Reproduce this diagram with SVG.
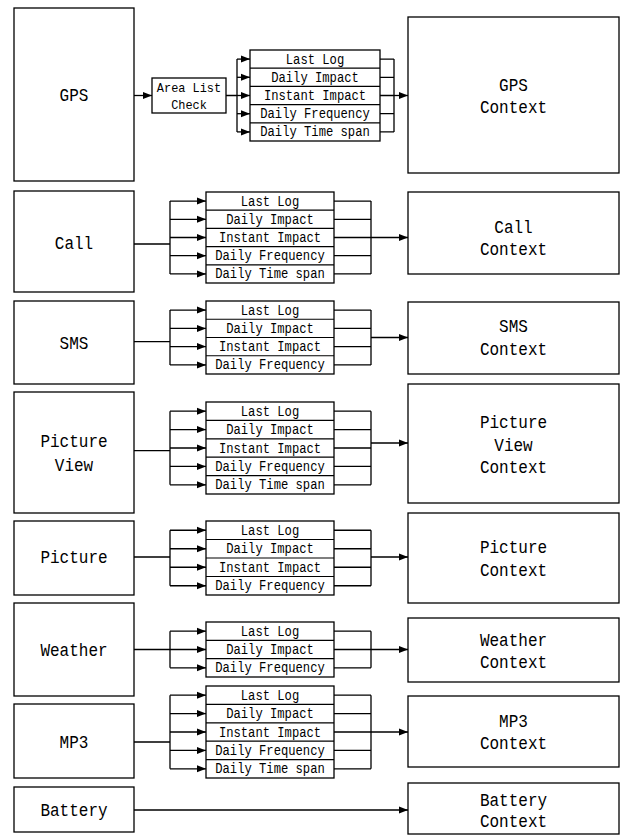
<svg xmlns="http://www.w3.org/2000/svg" width="623" height="836" viewBox="0 0 623 836">
<style>
.box{fill:#fff;stroke:#000;stroke-width:1.3}
.sep{fill:none;stroke:#000;stroke-width:1.2}
.ln{fill:none;stroke:#000;stroke-width:1.3}
.arr{fill:none;stroke:#000;stroke-width:1.3;marker-end:url(#ah)}
.t{font-family:"Liberation Mono","DejaVu Sans Mono",monospace;text-anchor:middle;dominant-baseline:central;fill:#000}
.big{font-size:19px}
.sm{font-size:14px}
.ar{font-size:13px}
</style>
<defs>
<marker id="ah" markerWidth="9" markerHeight="8" refX="9" refY="4" orient="auto" markerUnits="userSpaceOnUse"><path d="M0,0.5 L9,4 L0,7.5z" fill="#000"/></marker>
</defs>
<rect width="623" height="836" fill="#fff"/>

<g id="connectors">
<!-- GPS -->
<path class="arr" d="M134,95.5 H152"/>
<path class="ln" d="M226,95.5 H237 M237,59.1 V131.9"/>
<path class="arr" d="M237,59.1 H250"/><path class="arr" d="M237,77.3 H250"/><path class="arr" d="M237,95.5 H250"/><path class="arr" d="M237,113.7 H250"/><path class="arr" d="M237,131.9 H250"/>
<path class="ln" d="M380,59.1 H394 M380,77.3 H394 M380,95.5 H394 M380,113.7 H394 M380,131.9 H394 M394,59.1 V131.9"/>
<path class="arr" d="M394,95.5 H408"/>
<!-- Call -->
<path class="ln" d="M134,244 H170 M170,201.1 V273.9"/>
<path class="arr" d="M170,201.1 H206"/><path class="arr" d="M170,219.3 H206"/><path class="arr" d="M170,237.5 H206"/><path class="arr" d="M170,255.7 H206"/><path class="arr" d="M170,273.9 H206"/>
<path class="ln" d="M334,201.1 H371 M334,219.3 H371 M334,237.5 H371 M334,255.7 H371 M334,273.9 H371 M371,201.1 V273.9"/>
<path class="arr" d="M371,237.5 H408"/>
<!-- SMS -->
<path class="ln" d="M134,341.7 H170 M170,310.1 V364.9"/>
<path class="arr" d="M170,310.1 H206"/><path class="arr" d="M170,328.4 H206"/><path class="arr" d="M170,346.6 H206"/><path class="arr" d="M170,364.9 H206"/>
<path class="ln" d="M334,310.1 H371 M334,328.4 H371 M334,346.6 H371 M334,364.9 H371 M371,310.1 V364.9"/>
<path class="arr" d="M371,337.5 H408"/>
<!-- Picture View -->
<path class="ln" d="M134,450.7 H170 M170,411.2 V484.8"/>
<path class="arr" d="M170,411.2 H206"/><path class="arr" d="M170,429.6 H206"/><path class="arr" d="M170,448 H206"/><path class="arr" d="M170,466.4 H206"/><path class="arr" d="M170,484.8 H206"/>
<path class="ln" d="M334,411.2 H371 M334,429.6 H371 M334,448 H371 M334,466.4 H371 M334,484.8 H371 M371,411.2 V484.8"/>
<path class="arr" d="M371,443 H408"/>
<!-- Picture -->
<path class="ln" d="M134,557 H170 M170,530.25 V585.75"/>
<path class="arr" d="M170,530.25 H206"/><path class="arr" d="M170,548.75 H206"/><path class="arr" d="M170,567.25 H206"/><path class="arr" d="M170,585.75 H206"/>
<path class="ln" d="M334,530.25 H371 M334,548.75 H371 M334,567.25 H371 M334,585.75 H371 M371,530.25 V585.75"/>
<path class="arr" d="M371,557 H408"/>
<!-- Weather -->
<path class="arr" d="M134,649.5 H206"/>
<path class="ln" d="M170,631.2 V667.8"/>
<path class="arr" d="M170,631.2 H206"/><path class="arr" d="M170,667.8 H206"/>
<path class="ln" d="M334,631.2 H371 M334,649.5 H371 M334,667.8 H371 M371,631.2 V667.8"/>
<path class="arr" d="M371,649.5 H408"/>
<!-- MP3 -->
<path class="ln" d="M134,742 H170 M170,695.2 V768.8"/>
<path class="arr" d="M170,695.2 H206"/><path class="arr" d="M170,713.6 H206"/><path class="arr" d="M170,732 H206"/><path class="arr" d="M170,750.4 H206"/><path class="arr" d="M170,768.8 H206"/>
<path class="ln" d="M334,695.2 H371 M334,713.6 H371 M334,732 H371 M334,750.4 H371 M334,768.8 H371 M371,695.2 V768.8"/>
<path class="arr" d="M371,732 H408"/>
<!-- Battery -->
<path class="arr" d="M134,810 H408"/>
</g>

<!-- Source nodes -->
<g id="gps"><rect class="box" x="14" y="8" width="120" height="173"/><text class="t big" x="74" y="96" textLength="28.8" lengthAdjust="spacingAndGlyphs">GPS</text></g>
<g id="call"><rect class="box" x="14" y="191" width="120" height="101"/><text class="t big" x="74" y="244" textLength="38.4" lengthAdjust="spacingAndGlyphs">Call</text></g>
<g id="sms"><rect class="box" x="14" y="301" width="120" height="83"/><text class="t big" x="74" y="344" textLength="28.8" lengthAdjust="spacingAndGlyphs">SMS</text></g>
<g id="picture-view"><rect class="box" x="14" y="392" width="120" height="121"/><text class="t big" x="74" y="442" textLength="67.2" lengthAdjust="spacingAndGlyphs">Picture</text><text class="t big" x="74" y="466" textLength="38.4" lengthAdjust="spacingAndGlyphs">View</text></g>
<g id="picture"><rect class="box" x="14" y="521" width="120" height="74"/><text class="t big" x="74" y="558" textLength="67.2" lengthAdjust="spacingAndGlyphs">Picture</text></g>
<g id="weather"><rect class="box" x="14" y="603" width="120" height="93"/><text class="t big" x="74" y="651" textLength="67.2" lengthAdjust="spacingAndGlyphs">Weather</text></g>
<g id="mp3"><rect class="box" x="14" y="704" width="120" height="74"/><text class="t big" x="74" y="743" textLength="28.8" lengthAdjust="spacingAndGlyphs">MP3</text></g>
<g id="battery"><rect class="box" x="14" y="787" width="120" height="45"/><text class="t big" x="74" y="811" textLength="67.2" lengthAdjust="spacingAndGlyphs">Battery</text></g>

<!-- Area List Check -->
<g id="area-list-check"><rect class="box" x="152" y="78" width="74" height="35"/><text class="t ar" x="189" y="88" textLength="64.3" lengthAdjust="spacingAndGlyphs">Area List</text><text class="t ar" x="189" y="105" textLength="35.7" lengthAdjust="spacingAndGlyphs">Check</text></g>

<!-- Metric stacks -->
<g id="gps-metrics">
<rect class="box" x="250" y="50" width="130" height="91"/>
<path class="sep" d="M250,68.2 H380 M250,86.4 H380 M250,104.6 H380 M250,122.8 H380"/>
<text class="t sm" x="315" y="59.6" textLength="58.4" lengthAdjust="spacingAndGlyphs">Last Log</text>
<text class="t sm" x="315" y="77.8" textLength="87.6" lengthAdjust="spacingAndGlyphs">Daily Impact</text>
<text class="t sm" x="315" y="96" textLength="102.2" lengthAdjust="spacingAndGlyphs">Instant Impact</text>
<text class="t sm" x="315" y="114.2" textLength="109.5" lengthAdjust="spacingAndGlyphs">Daily Frequency</text>
<text class="t sm" x="315" y="132.4" textLength="109.5" lengthAdjust="spacingAndGlyphs">Daily Time span</text>
</g>
<g id="call-metrics">
<rect class="box" x="206" y="192" width="128" height="91"/>
<path class="sep" d="M206,210.2 H334 M206,228.4 H334 M206,246.6 H334 M206,264.8 H334"/>
<text class="t sm" x="270" y="201.6" textLength="58.4" lengthAdjust="spacingAndGlyphs">Last Log</text>
<text class="t sm" x="270" y="219.8" textLength="87.6" lengthAdjust="spacingAndGlyphs">Daily Impact</text>
<text class="t sm" x="270" y="238" textLength="102.2" lengthAdjust="spacingAndGlyphs">Instant Impact</text>
<text class="t sm" x="270" y="256.2" textLength="109.5" lengthAdjust="spacingAndGlyphs">Daily Frequency</text>
<text class="t sm" x="270" y="274.4" textLength="109.5" lengthAdjust="spacingAndGlyphs">Daily Time span</text>
</g>
<g id="sms-metrics">
<rect class="box" x="206" y="301" width="128" height="73"/>
<path class="sep" d="M206,319.25 H334 M206,337.5 H334 M206,355.75 H334"/>
<text class="t sm" x="270" y="310.6" textLength="58.4" lengthAdjust="spacingAndGlyphs">Last Log</text>
<text class="t sm" x="270" y="328.9" textLength="87.6" lengthAdjust="spacingAndGlyphs">Daily Impact</text>
<text class="t sm" x="270" y="347.1" textLength="102.2" lengthAdjust="spacingAndGlyphs">Instant Impact</text>
<text class="t sm" x="270" y="365.4" textLength="109.5" lengthAdjust="spacingAndGlyphs">Daily Frequency</text>
</g>
<g id="picture-view-metrics">
<rect class="box" x="206" y="402" width="128" height="92"/>
<path class="sep" d="M206,420.4 H334 M206,438.8 H334 M206,457.2 H334 M206,475.6 H334"/>
<text class="t sm" x="270" y="411.7" textLength="58.4" lengthAdjust="spacingAndGlyphs">Last Log</text>
<text class="t sm" x="270" y="430.1" textLength="87.6" lengthAdjust="spacingAndGlyphs">Daily Impact</text>
<text class="t sm" x="270" y="448.5" textLength="102.2" lengthAdjust="spacingAndGlyphs">Instant Impact</text>
<text class="t sm" x="270" y="466.9" textLength="109.5" lengthAdjust="spacingAndGlyphs">Daily Frequency</text>
<text class="t sm" x="270" y="485.3" textLength="109.5" lengthAdjust="spacingAndGlyphs">Daily Time span</text>
</g>
<g id="picture-metrics">
<rect class="box" x="206" y="521" width="128" height="74"/>
<path class="sep" d="M206,539.5 H334 M206,558 H334 M206,576.5 H334"/>
<text class="t sm" x="270" y="530.75" textLength="58.4" lengthAdjust="spacingAndGlyphs">Last Log</text>
<text class="t sm" x="270" y="549.25" textLength="87.6" lengthAdjust="spacingAndGlyphs">Daily Impact</text>
<text class="t sm" x="270" y="567.75" textLength="102.2" lengthAdjust="spacingAndGlyphs">Instant Impact</text>
<text class="t sm" x="270" y="586.25" textLength="109.5" lengthAdjust="spacingAndGlyphs">Daily Frequency</text>
</g>
<g id="weather-metrics">
<rect class="box" x="206" y="622" width="128" height="55"/>
<path class="sep" d="M206,640.3 H334 M206,658.7 H334"/>
<text class="t sm" x="270" y="631.7" textLength="58.4" lengthAdjust="spacingAndGlyphs">Last Log</text>
<text class="t sm" x="270" y="650" textLength="87.6" lengthAdjust="spacingAndGlyphs">Daily Impact</text>
<text class="t sm" x="270" y="668.3" textLength="109.5" lengthAdjust="spacingAndGlyphs">Daily Frequency</text>
</g>
<g id="mp3-metrics">
<rect class="box" x="206" y="686" width="128" height="92"/>
<path class="sep" d="M206,704.4 H334 M206,722.8 H334 M206,741.2 H334 M206,759.6 H334"/>
<text class="t sm" x="270" y="695.7" textLength="58.4" lengthAdjust="spacingAndGlyphs">Last Log</text>
<text class="t sm" x="270" y="714.1" textLength="87.6" lengthAdjust="spacingAndGlyphs">Daily Impact</text>
<text class="t sm" x="270" y="732.5" textLength="102.2" lengthAdjust="spacingAndGlyphs">Instant Impact</text>
<text class="t sm" x="270" y="750.9" textLength="109.5" lengthAdjust="spacingAndGlyphs">Daily Frequency</text>
<text class="t sm" x="270" y="769.3" textLength="109.5" lengthAdjust="spacingAndGlyphs">Daily Time span</text>
</g>

<!-- Context nodes -->
<g id="gps-context"><rect class="box" x="408" y="17" width="211" height="156"/><text class="t big" x="513.5" y="86" textLength="28.8" lengthAdjust="spacingAndGlyphs">GPS</text><text class="t big" x="513.5" y="108" textLength="67.2" lengthAdjust="spacingAndGlyphs">Context</text></g>
<g id="call-context"><rect class="box" x="408" y="192" width="211" height="82"/><text class="t big" x="513.5" y="228" textLength="38.4" lengthAdjust="spacingAndGlyphs">Call</text><text class="t big" x="513.5" y="250" textLength="67.2" lengthAdjust="spacingAndGlyphs">Context</text></g>
<g id="sms-context"><rect class="box" x="408" y="302" width="211" height="72"/><text class="t big" x="513.5" y="327" textLength="28.8" lengthAdjust="spacingAndGlyphs">SMS</text><text class="t big" x="513.5" y="350" textLength="67.2" lengthAdjust="spacingAndGlyphs">Context</text></g>
<g id="picture-view-context"><rect class="box" x="408" y="384" width="211" height="119"/><text class="t big" x="513.5" y="423" textLength="67.2" lengthAdjust="spacingAndGlyphs">Picture</text><text class="t big" x="513.5" y="446" textLength="38.4" lengthAdjust="spacingAndGlyphs">View</text><text class="t big" x="513.5" y="468" textLength="67.2" lengthAdjust="spacingAndGlyphs">Context</text></g>
<g id="picture-context"><rect class="box" x="408" y="513" width="211" height="90"/><text class="t big" x="513.5" y="548" textLength="67.2" lengthAdjust="spacingAndGlyphs">Picture</text><text class="t big" x="513.5" y="571" textLength="67.2" lengthAdjust="spacingAndGlyphs">Context</text></g>
<g id="weather-context"><rect class="box" x="408" y="618" width="211" height="64"/><text class="t big" x="513.5" y="641" textLength="67.2" lengthAdjust="spacingAndGlyphs">Weather</text><text class="t big" x="513.5" y="663" textLength="67.2" lengthAdjust="spacingAndGlyphs">Context</text></g>
<g id="mp3-context"><rect class="box" x="408" y="696" width="211" height="71"/><text class="t big" x="513.5" y="722" textLength="28.8" lengthAdjust="spacingAndGlyphs">MP3</text><text class="t big" x="513.5" y="744" textLength="67.2" lengthAdjust="spacingAndGlyphs">Context</text></g>
<g id="battery-context"><rect class="box" x="408" y="783" width="211" height="51"/><text class="t big" x="513.5" y="801" textLength="67.2" lengthAdjust="spacingAndGlyphs">Battery</text><text class="t big" x="513.5" y="822" textLength="67.2" lengthAdjust="spacingAndGlyphs">Context</text></g>
</svg>
